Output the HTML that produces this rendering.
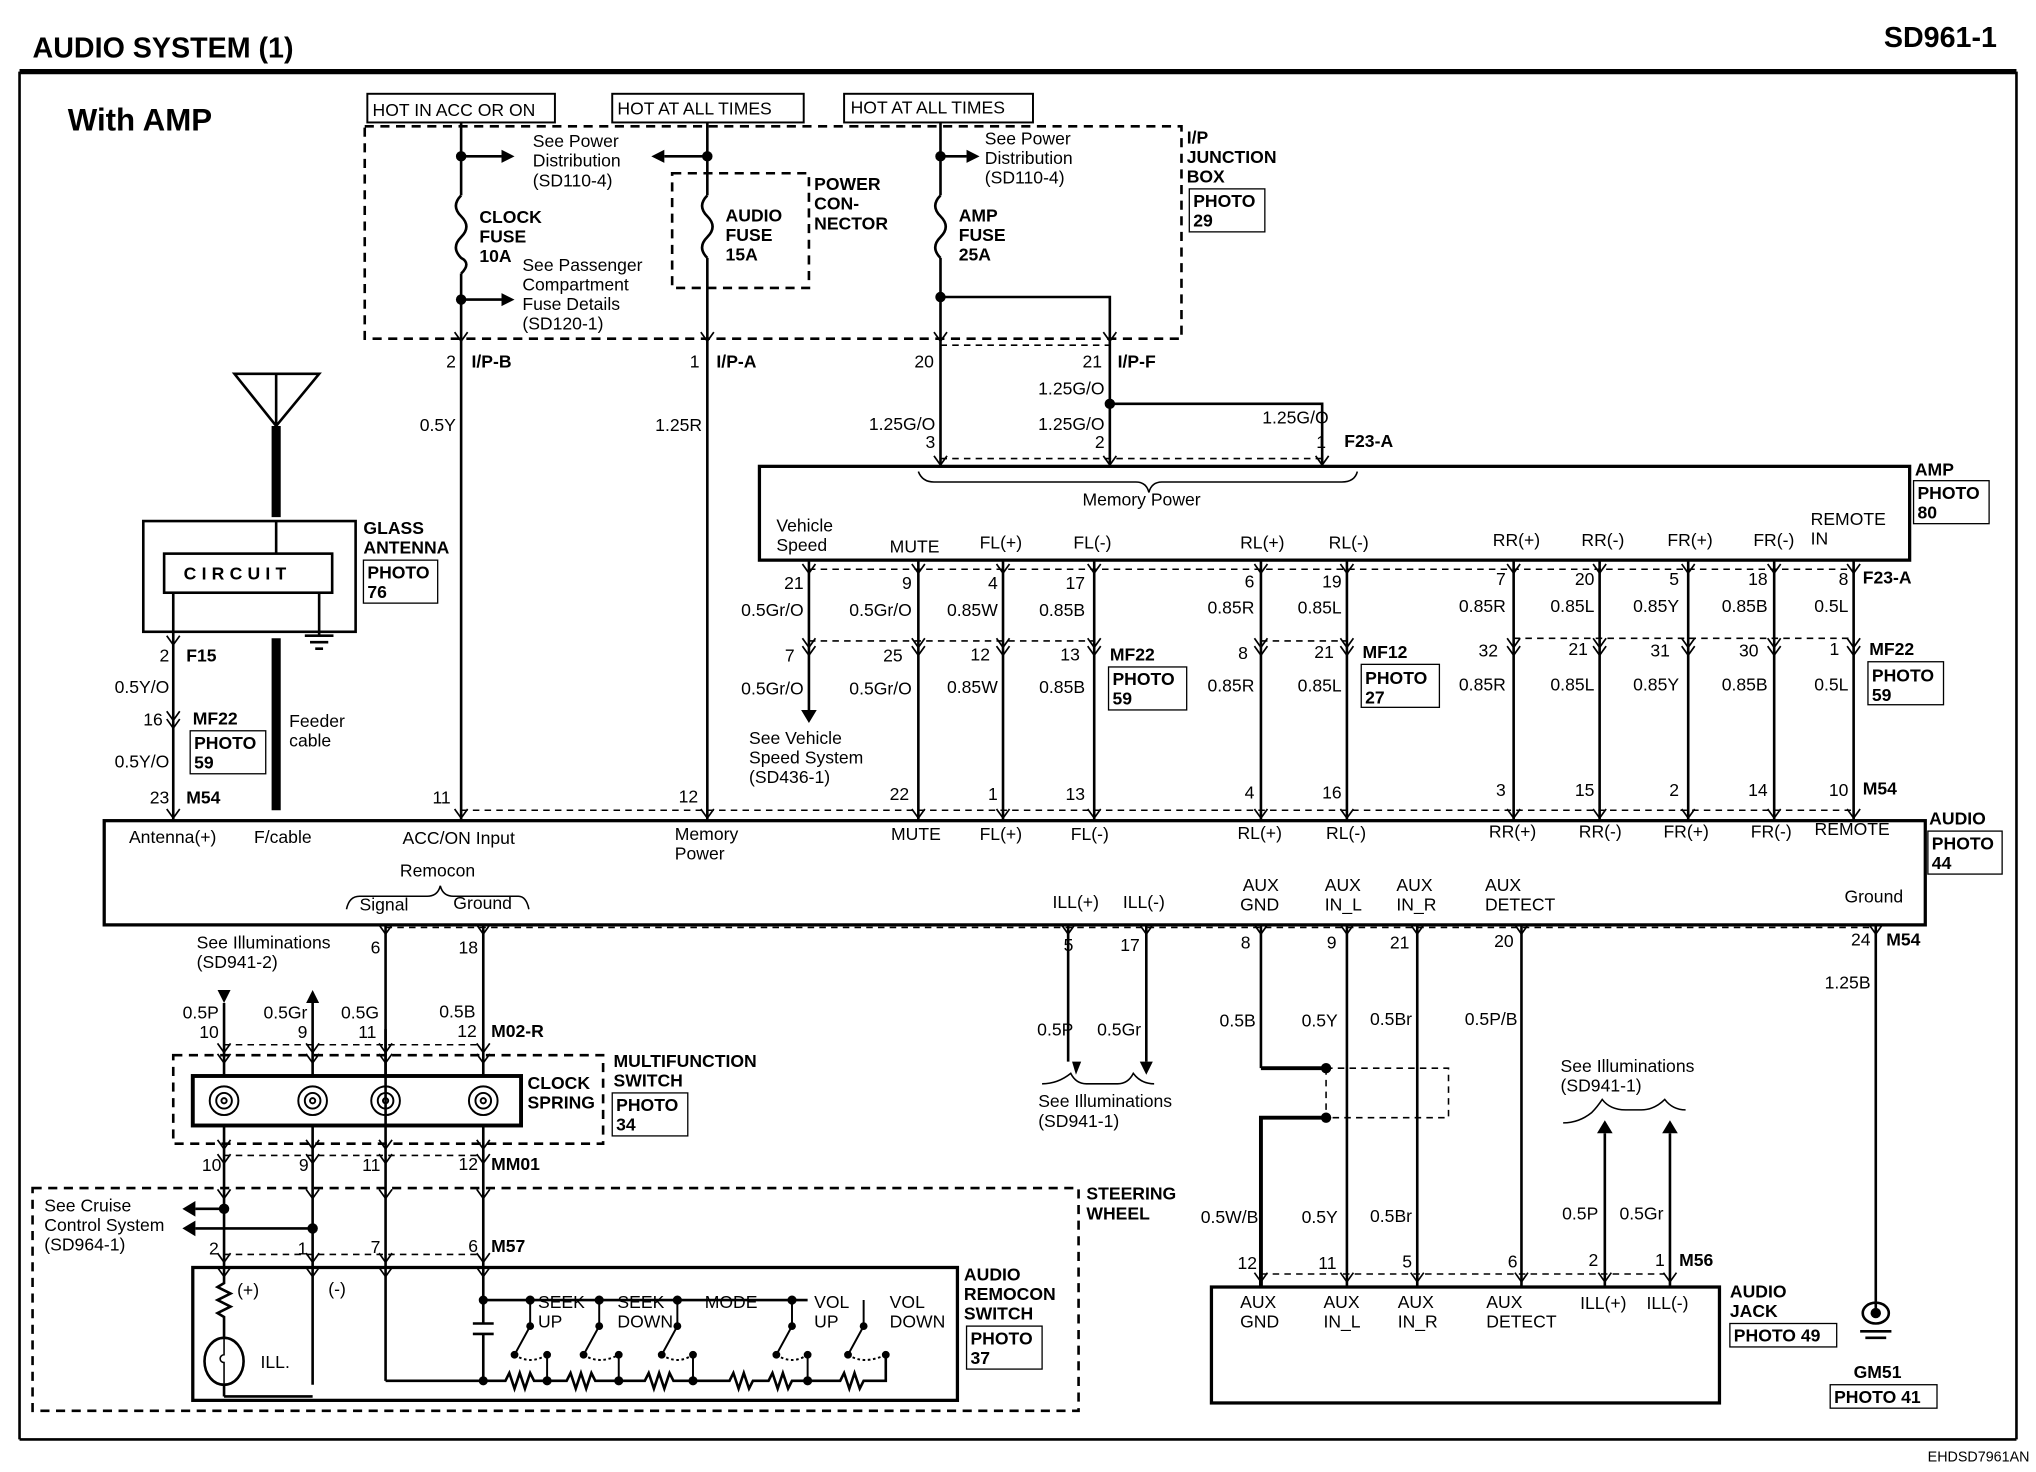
<!DOCTYPE html>
<html><head><meta charset="utf-8"><style>
html,body{margin:0;padding:0;background:#fff}
svg{display:block}
text{font-family:"Liberation Sans",sans-serif;font-size:13.5px;fill:#000}
.b{font-weight:bold}
</style></head><body>
<svg width="2036" height="1472" viewBox="0 0 1563 1130" preserveAspectRatio="none" xmlns="http://www.w3.org/2000/svg">
<rect width="1563" height="1130" fill="#fff"/>
<defs><path id="cv" d="M-5 -7 L0 0 L5 -7" fill="none" stroke="#000" stroke-width="1.3"/></defs>
<g stroke="#000" fill="none" stroke-width="2">
<line x1="15" y1="55" x2="1548" y2="55" stroke-width="4"/>
<line x1="15" y1="55" x2="15" y2="1105"/>
<line x1="1548" y1="55" x2="1548" y2="1105"/>
<line x1="15" y1="1105" x2="1548" y2="1105"/>
<rect x="282" y="72" width="144" height="22" stroke-width="1.5"/>
<rect x="470" y="72" width="147" height="22" stroke-width="1.5"/>
<rect x="648" y="72" width="145" height="22" stroke-width="1.5"/>
<rect x="280" y="97" width="627" height="163" stroke-dasharray="7,5"/>
<rect x="516" y="133" width="105" height="88" stroke-dasharray="7,5"/>
<line x1="354" y1="94" x2="354" y2="150"/>
<path d="M354 150 q-8 8 0 16 q8 8 0 16 q-8 8 0 16 q8 4 0 12"/>
<line x1="354" y1="210" x2="354" y2="630"/>
<line x1="543" y1="94" x2="543" y2="150"/>
<path d="M543 150 q-8 8 0 16 q8 8 0 16 q-8 8 0 16"/>
<line x1="543" y1="198" x2="543" y2="630"/>
<line x1="722" y1="94" x2="722" y2="150"/>
<path d="M722 150 q-8 8 0 16 q8 8 0 16 q-8 8 0 16"/>
<line x1="722" y1="198" x2="722" y2="358"/>
<path d="M722 228 H852 V358"/>
<path d="M852 310 H1015 V358"/>
<line x1="354" y1="120" x2="385" y2="120"/><line x1="543" y1="120" x2="510" y2="120"/>
<line x1="722" y1="120" x2="742" y2="120"/><line x1="354" y1="230" x2="385" y2="230"/>
<rect x="583" y="358" width="883" height="72" stroke-width="2.5"/>
<path d="M705 362 q3 8 12 8 H872 q8 0 10 8 q2 -8 10 -8 H1030 q10 0 12 -8" stroke-width="1.2"/>
<line x1="621" y1="430" x2="621" y2="545"/>
<line x1="705" y1="430" x2="705" y2="630"/>
<line x1="770" y1="430" x2="770" y2="630"/>
<line x1="840" y1="430" x2="840" y2="630"/>
<line x1="968" y1="430" x2="968" y2="630"/>
<line x1="1034" y1="430" x2="1034" y2="630"/>
<line x1="1162" y1="430" x2="1162" y2="630"/>
<line x1="1228" y1="430" x2="1228" y2="630"/>
<line x1="1296" y1="430" x2="1296" y2="630"/>
<line x1="1362" y1="430" x2="1362" y2="630"/>
<line x1="1423" y1="430" x2="1423" y2="630"/>
<g stroke-dasharray="5,4" stroke-width="1.2">
<line x1="722" y1="265" x2="852" y2="265"/><line x1="722" y1="352" x2="1015" y2="352"/>
<line x1="621" y1="437" x2="1423" y2="437"/>
<line x1="621" y1="492" x2="840" y2="492"/><line x1="968" y1="492" x2="1034" y2="492"/><line x1="1162" y1="490" x2="1423" y2="490"/>
<line x1="354" y1="622" x2="1423" y2="622"/>
<line x1="296" y1="712" x2="1440" y2="712"/>
<line x1="172" y1="802" x2="371" y2="802"/><line x1="172" y1="887" x2="371" y2="887"/>
<line x1="172" y1="963" x2="371" y2="963"/>
<line x1="968" y1="978" x2="1278" y2="978"/>
<path d="M1018 820 H1112 V858 H1018"/>
<line x1="1018" y1="820" x2="1018" y2="858"/>
</g>
<rect x="80" y="630" width="1398" height="80" stroke-width="2.5"/>
<path d="M266 698 q2 -10 10 -10 H328 q8 0 10 -8 q2 8 10 8 H398 q6 0 8 10" stroke-width="1.2"/>
<path d="M180 287 H245 L212 327 Z M212 287 V327"/>
<line x1="212" y1="327" x2="212" y2="397" stroke-width="7"/>
<rect x="110" y="400" width="163" height="85"/>
<rect x="126" y="425" width="129" height="30"/>
<line x1="212" y1="400" x2="212" y2="425"/>
<path d="M133 455 V630"/>
<line x1="212" y1="490" x2="212" y2="622" stroke-width="7"/>
<path d="M245 455 V488 M234 488 H256 M238 493 H252 M242 498 H248"/>
<line x1="296" y1="710" x2="296" y2="1060"/>
<line x1="371" y1="710" x2="371" y2="825"/><line x1="371" y1="865" x2="371" y2="998"/>
<line x1="820" y1="710" x2="820" y2="815"/><line x1="880" y1="710" x2="880" y2="815"/>
<path d="M800 832 q12 0 22 -8 q4 8 12 8 H858 q8 0 12 -8 q6 8 16 8" stroke-width="1.2"/>
<line x1="968" y1="710" x2="968" y2="820"/><path d="M968 820 H1018" stroke-width="3"/>
<path d="M1018 858 H968 V988" stroke-width="3"/>
<line x1="1034" y1="710" x2="1034" y2="988"/>
<line x1="1088" y1="710" x2="1088" y2="988"/>
<line x1="1168" y1="710" x2="1168" y2="988"/>
<line x1="1440" y1="710" x2="1440" y2="1008"/>
<path d="M1430 1008 a10 8 0 1 0 20 0 a10 8 0 1 0 -20 0 M1428 1022 H1452 M1432 1027 H1448"/>
<line x1="1232" y1="870" x2="1232" y2="988"/><line x1="1282" y1="870" x2="1282" y2="988"/>
<path d="M1200 862 q12 0 22 -8 q4 -4 8 -10 q6 8 18 8 H1260 q10 0 18 -8 q6 8 16 8" stroke-width="1.2"/>
<rect x="930" y="988" width="390" height="89" stroke-width="2.5"/>
<line x1="172" y1="770" x2="172" y2="825"/><line x1="240" y1="770" x2="240" y2="825"/>
<line x1="296" y1="790" x2="296" y2="825"/>
<line x1="172" y1="865" x2="172" y2="973"/><line x1="240" y1="865" x2="240" y2="1063"/>
<path d="M172 973 V985 l-5 3 l10 5 l-10 5 l10 5 l-10 5 l5 3 V1028 M172 1062 V1072 M172 1072 H240"/>
<ellipse cx="172" cy="1045" rx="15" ry="18"/>
<path d="M172 1027 V1040 a3 3 0 0 0 0 6 V1062" stroke-width="1.2"/>
<line x1="150" y1="928" x2="172" y2="928"/><line x1="150" y1="943" x2="240" y2="943"/>
<rect x="133" y="810" width="330" height="68" stroke-dasharray="7,5"/>
<rect x="148" y="826" width="252" height="38" stroke-width="3"/>
<rect x="25" y="912" width="803" height="171" stroke-dasharray="7,5"/>
<rect x="148" y="973" width="587" height="102" stroke-width="2.5"/>
<path d="M296 1060 H371 M371 998 H620"/>
<path d="M371 998 V1016 M363 1016 H379 M363 1024 H379 M371 1024 V1060"/>
<path d="M371 1060 H388 l3 -6 l4 12 l4 -12 l4 12 l4 -12 l3 6 H435 l3 -6 l4 12 l4 -12 l4 12 l4 -12 l3 6 H495 l3 -6 l4 12 l4 -12 l4 12 l4 -12 l3 6 H560 l3 -6 l4 12 l4 -12 l4 12 l3 -6 H590 l3 -6 l4 12 l4 -12 l4 12 l3 -6 H645 l3 -6 l4 12 l4 -12 l4 12 l3 -6 H680 V1040"/>
<g stroke-width="1.5">
<path d="M407 998 V1018 L395 1040 M420 1040 V1060"/>
<path d="M460 998 V1018 L448 1040 M475 1040 V1060"/>
<path d="M520 998 V1018 L508 1040 M532 1040 V1060"/>
<path d="M608 998 V1018 L596 1040 M620 1040 V1060"/>
<path d="M663 998 V1018 L651 1040"/>
<path d="M395 1040 q12 8 25 0 M448 1040 q12 8 27 0 M508 1040 q12 8 24 0 M596 1040 q12 8 24 0 M651 1040 q12 8 29 0" stroke-dasharray="2,2"/>
</g>
</g>
<!-- chevrons -->
<g>
<use href="#cv" x="354" y="262"/><use href="#cv" x="543" y="262"/><use href="#cv" x="722" y="262"/><use href="#cv" x="852" y="262"/>
<use href="#cv" x="722" y="357"/><use href="#cv" x="852" y="357"/><use href="#cv" x="1015" y="357"/>
<use href="#cv" x="621" y="440"/><use href="#cv" x="705" y="440"/><use href="#cv" x="770" y="440"/><use href="#cv" x="840" y="440"/><use href="#cv" x="968" y="440"/><use href="#cv" x="1034" y="440"/><use href="#cv" x="1162" y="440"/><use href="#cv" x="1228" y="440"/><use href="#cv" x="1296" y="440"/><use href="#cv" x="1362" y="440"/><use href="#cv" x="1423" y="440"/>
<use href="#cv" x="621" y="497"/><use href="#cv" x="705" y="497"/><use href="#cv" x="770" y="497"/><use href="#cv" x="840" y="497"/><use href="#cv" x="968" y="497"/><use href="#cv" x="1034" y="497"/><use href="#cv" x="1162" y="497"/><use href="#cv" x="1228" y="497"/><use href="#cv" x="1296" y="497"/><use href="#cv" x="1362" y="497"/><use href="#cv" x="1423" y="497"/>
<use href="#cv" x="621" y="503"/><use href="#cv" x="705" y="503"/><use href="#cv" x="770" y="503"/><use href="#cv" x="840" y="503"/><use href="#cv" x="968" y="503"/><use href="#cv" x="1034" y="503"/><use href="#cv" x="1162" y="503"/><use href="#cv" x="1228" y="503"/><use href="#cv" x="1296" y="503"/><use href="#cv" x="1362" y="503"/><use href="#cv" x="1423" y="503"/>
<use href="#cv" x="133" y="495"/><use href="#cv" x="133" y="553"/><use href="#cv" x="133" y="559"/>
<use href="#cv" x="354" y="628"/><use href="#cv" x="543" y="628"/><use href="#cv" x="705" y="628"/><use href="#cv" x="770" y="628"/><use href="#cv" x="840" y="628"/><use href="#cv" x="968" y="628"/><use href="#cv" x="1034" y="628"/><use href="#cv" x="1162" y="628"/><use href="#cv" x="1228" y="628"/><use href="#cv" x="1296" y="628"/><use href="#cv" x="1362" y="628"/><use href="#cv" x="1423" y="628"/><use href="#cv" x="133" y="628"/>
<use href="#cv" x="296" y="717"/><use href="#cv" x="371" y="717"/><use href="#cv" x="820" y="717"/><use href="#cv" x="880" y="717"/><use href="#cv" x="968" y="717"/><use href="#cv" x="1034" y="717"/><use href="#cv" x="1088" y="717"/><use href="#cv" x="1168" y="717"/><use href="#cv" x="1440" y="717"/>
<use href="#cv" x="172" y="808"/><use href="#cv" x="240" y="808"/><use href="#cv" x="296" y="808"/><use href="#cv" x="371" y="808"/>
<use href="#cv" x="172" y="816"/><use href="#cv" x="240" y="816"/><use href="#cv" x="296" y="816"/><use href="#cv" x="371" y="816"/>
<use href="#cv" x="172" y="882"/><use href="#cv" x="240" y="882"/><use href="#cv" x="296" y="882"/><use href="#cv" x="371" y="882"/>
<use href="#cv" x="172" y="893"/><use href="#cv" x="240" y="893"/><use href="#cv" x="296" y="893"/><use href="#cv" x="371" y="893"/>
<use href="#cv" x="172" y="920"/><use href="#cv" x="240" y="920"/><use href="#cv" x="296" y="920"/><use href="#cv" x="371" y="920"/>
<use href="#cv" x="172" y="969"/><use href="#cv" x="240" y="969"/><use href="#cv" x="296" y="969"/><use href="#cv" x="371" y="969"/>
<use href="#cv" x="172" y="980"/><use href="#cv" x="240" y="980"/><use href="#cv" x="296" y="980"/><use href="#cv" x="371" y="980"/>
<use href="#cv" x="968" y="984"/><use href="#cv" x="1034" y="984"/><use href="#cv" x="1088" y="984"/><use href="#cv" x="1168" y="984"/><use href="#cv" x="1232" y="984"/><use href="#cv" x="1282" y="984"/>
</g>
<g stroke="#000" fill="none" stroke-width="1.5">
<circle cx="172" cy="845" r="11"/><circle cx="172" cy="845" r="6"/><circle cx="172" cy="845" r="2"/>
<circle cx="240" cy="845" r="11"/><circle cx="240" cy="845" r="6"/><circle cx="240" cy="845" r="2"/>
<circle cx="296" cy="845" r="11"/><circle cx="296" cy="845" r="6"/><circle cx="296" cy="845" r="2"/>
<circle cx="371" cy="845" r="11"/><circle cx="371" cy="845" r="6"/><circle cx="371" cy="845" r="2"/>
</g>
<g fill="#000">
<circle cx="354" cy="120" r="4"/><circle cx="543" cy="120" r="4"/><circle cx="722" cy="120" r="4"/>
<circle cx="354" cy="230" r="4"/><circle cx="722" cy="228" r="4"/><circle cx="852" cy="310" r="4"/>
<circle cx="1018" cy="820" r="4"/><circle cx="1018" cy="858" r="4"/>
<circle cx="172" cy="928" r="4"/><circle cx="240" cy="943" r="4"/>
<circle cx="371" cy="998" r="3.5"/><circle cx="407" cy="998" r="3.5"/><circle cx="460" cy="998" r="3.5"/><circle cx="520" cy="998" r="3.5"/><circle cx="608" cy="998" r="3.5"/>
<circle cx="371" cy="1060" r="3.5"/><circle cx="420" cy="1060" r="3.5"/><circle cx="475" cy="1060" r="3.5"/><circle cx="532" cy="1060" r="3.5"/><circle cx="620" cy="1060" r="3.5"/>
<circle cx="407" cy="1018" r="3"/><circle cx="460" cy="1018" r="3"/><circle cx="520" cy="1018" r="3"/><circle cx="608" cy="1018" r="3"/><circle cx="663" cy="1018" r="3"/>
<circle cx="395" cy="1040" r="3"/><circle cx="420" cy="1040" r="3"/><circle cx="448" cy="1040" r="3"/><circle cx="475" cy="1040" r="3"/><circle cx="508" cy="1040" r="3"/><circle cx="532" cy="1040" r="3"/><circle cx="596" cy="1040" r="3"/><circle cx="620" cy="1040" r="3"/><circle cx="651" cy="1040" r="3"/><circle cx="680" cy="1040" r="3"/>
<path d="M385 115 L395 120 L385 125Z M510 115 L500 120 L510 125Z M742 115 L752 120 L742 125Z M385 225 L395 230 L385 235Z"/>
<path d="M615 545 H627 L621 555Z M167 760 H177 L172 770Z M235 770 H245 L240 760Z M823 815 L830 815 L826 825Z M875 815 H885 L880 825Z M1226 870 H1238 L1232 860Z M1276 870 H1288 L1282 860Z"/>
<path d="M150 922 L140 928 L150 934Z M150 937 L140 943 L150 949Z"/>
<circle cx="1440" cy="1008" r="4"/>
</g>
<text x="25" y="44" class="b" style="font-size:22px">AUDIO SYSTEM (1)</text>
<text x="1533" y="36" class="b" text-anchor="end" style="font-size:22px">SD961-1</text>
<text x="52" y="100" class="b" style="font-size:24px">With AMP</text>
<text x="1558" y="1122" text-anchor="end" style="font-size:11px">EHDSD7961AN</text>
<text x="286" y="89">HOT IN ACC OR ON</text>
<text x="474" y="88">HOT AT ALL TIMES</text>
<text x="653" y="87">HOT AT ALL TIMES</text>
<text x="409" y="113">See Power</text><text x="409" y="128">Distribution</text><text x="409" y="143">(SD110-4)</text>
<text x="756" y="111">See Power</text><text x="756" y="126">Distribution</text><text x="756" y="141">(SD110-4)</text>
<text x="368" y="171" class="b">CLOCK</text><text x="368" y="186" class="b">FUSE</text><text x="368" y="201" class="b">10A</text>
<text x="401" y="208">See Passenger</text><text x="401" y="223">Compartment</text><text x="401" y="238">Fuse Details</text><text x="401" y="253">(SD120-1)</text>
<text x="557" y="170" class="b">AUDIO</text><text x="557" y="185" class="b">FUSE</text><text x="557" y="200" class="b">15A</text>
<text x="625" y="146" class="b">POWER</text><text x="625" y="161" class="b">CON-</text><text x="625" y="176" class="b">NECTOR</text>
<text x="736" y="170" class="b">AMP</text><text x="736" y="185" class="b">FUSE</text><text x="736" y="200" class="b">25A</text>
<text x="911" y="110" class="b">I/P</text><text x="911" y="125" class="b">JUNCTION</text><text x="911" y="140" class="b">BOX</text>
<rect x="913" y="145" width="58" height="33" fill="none" stroke="#000"/><text x="916" y="159" class="b">PHOTO</text><text x="916" y="174" class="b">29</text>
<text x="350" y="282" text-anchor="end">2</text><text x="362" y="282" class="b">I/P-B</text>
<text x="537" y="282" text-anchor="end">1</text><text x="550" y="282" class="b">I/P-A</text>
<text x="717" y="282" text-anchor="end">20</text><text x="846" y="282" text-anchor="end">21</text><text x="858" y="282" class="b">I/P-F</text>
<text x="350" y="331" text-anchor="end">0.5Y</text><text x="539" y="331" text-anchor="end">1.25R</text>
<text x="718" y="330" text-anchor="end">1.25G/O</text><text x="848" y="303" text-anchor="end">1.25G/O</text><text x="848" y="330" text-anchor="end">1.25G/O</text><text x="1020" y="325" text-anchor="end">1.25G/O</text>
<text x="718" y="344" text-anchor="end">3</text><text x="848" y="344" text-anchor="end">2</text><text x="1018" y="344" text-anchor="end">1</text><text x="1032" y="343" class="b">F23-A</text>
<text x="831" y="388">Memory Power</text>
<text x="1470" y="365" class="b">AMP</text>
<rect x="1469" y="369" width="58" height="33" fill="none" stroke="#000"/><text x="1472" y="383" class="b">PHOTO</text><text x="1472" y="398" class="b">80</text>
<text x="596" y="408">Vehicle</text><text x="596" y="423">Speed</text>
<text x="683" y="424">MUTE</text><text x="752" y="421">FL(+)</text><text x="824" y="421">FL(-)</text>
<text x="952" y="421">RL(+)</text><text x="1020" y="421">RL(-)</text><text x="1146" y="419">RR(+)</text><text x="1214" y="419">RR(-)</text>
<text x="1280" y="419">FR(+)</text><text x="1346" y="419">FR(-)</text><text x="1390" y="403">REMOTE</text><text x="1390" y="418">IN</text>
<g text-anchor="end">
<text x="617" y="452">21</text><text x="700" y="452">9</text><text x="766" y="452">4</text><text x="833" y="452">17</text><text x="963" y="451">6</text><text x="1030" y="451">19</text><text x="1156" y="449">7</text><text x="1224" y="449">20</text><text x="1289" y="449">5</text><text x="1357" y="449">18</text><text x="1419" y="449">8</text>
<text x="617" y="473">0.5Gr/O</text><text x="700" y="473">0.5Gr/O</text><text x="766" y="473">0.85W</text><text x="833" y="473">0.85B</text><text x="963" y="471">0.85R</text><text x="1030" y="471">0.85L</text><text x="1156" y="470">0.85R</text><text x="1224" y="470">0.85L</text><text x="1289" y="470">0.85Y</text><text x="1357" y="470">0.85B</text><text x="1419" y="470">0.5L</text>
<text x="610" y="508">7</text><text x="693" y="508">25</text><text x="760" y="507">12</text><text x="829" y="507">13</text><text x="958" y="506">8</text><text x="1024" y="505">21</text><text x="1150" y="504">32</text><text x="1219" y="503">21</text><text x="1282" y="504">31</text><text x="1350" y="504">30</text><text x="1412" y="503">1</text>
<text x="617" y="533">0.5Gr/O</text><text x="700" y="533">0.5Gr/O</text><text x="766" y="532">0.85W</text><text x="833" y="532">0.85B</text><text x="963" y="531">0.85R</text><text x="1030" y="531">0.85L</text><text x="1156" y="530">0.85R</text><text x="1224" y="530">0.85L</text><text x="1289" y="530">0.85Y</text><text x="1357" y="530">0.85B</text><text x="1419" y="530">0.5L</text>
<text x="346" y="617">11</text><text x="536" y="616">12</text><text x="698" y="614">22</text><text x="766" y="614">1</text><text x="833" y="614">13</text><text x="963" y="613">4</text><text x="1030" y="613">16</text><text x="1156" y="611">3</text><text x="1224" y="611">15</text><text x="1289" y="611">2</text><text x="1357" y="611">14</text><text x="1419" y="611">10</text>
</g>
<text x="1430" y="448" class="b">F23-A</text>
<text x="852" y="507" class="b">MF22</text><rect x="851" y="512" width="60" height="33" fill="none" stroke="#000"/><text x="854" y="526" class="b">PHOTO</text><text x="854" y="541" class="b">59</text>
<text x="1046" y="505" class="b">MF12</text><rect x="1045" y="510" width="60" height="33" fill="none" stroke="#000"/><text x="1048" y="525" class="b">PHOTO</text><text x="1048" y="540" class="b">27</text>
<text x="1435" y="503" class="b">MF22</text><rect x="1434" y="508" width="58" height="33" fill="none" stroke="#000"/><text x="1437" y="523" class="b">PHOTO</text><text x="1437" y="538" class="b">59</text>
<text x="575" y="571">See Vehicle</text><text x="575" y="586">Speed System</text><text x="575" y="601">(SD436-1)</text>
<text x="1430" y="610" class="b">M54</text>
<text x="279" y="410" class="b">GLASS</text><text x="279" y="425" class="b">ANTENNA</text>
<rect x="279" y="430" width="57" height="33" fill="none" stroke="#000"/><text x="282" y="444" class="b">PHOTO</text><text x="282" y="459" class="b">76</text>
<text x="141" y="445" class="b" style="letter-spacing:4px">CIRCUIT</text>
<text x="130" y="508" text-anchor="end">2</text><text x="143" y="508" class="b">F15</text>
<text x="130" y="532" text-anchor="end">0.5Y/O</text>
<text x="125" y="557" text-anchor="end">16</text><text x="148" y="556" class="b">MF22</text>
<rect x="146" y="561" width="58" height="33" fill="none" stroke="#000"/><text x="149" y="575" class="b">PHOTO</text><text x="149" y="590" class="b">59</text>
<text x="130" y="589" text-anchor="end">0.5Y/O</text>
<text x="130" y="617" text-anchor="end">23</text><text x="143" y="617" class="b">M54</text>
<text x="222" y="558">Feeder</text><text x="222" y="573">cable</text>
<text x="99" y="647">Antenna(+)</text><text x="195" y="647">F/cable</text><text x="309" y="648">ACC/ON Input</text>
<text x="518" y="645">Memory</text><text x="518" y="660">Power</text>
<text x="684" y="645">MUTE</text><text x="752" y="645">FL(+)</text><text x="822" y="645">FL(-)</text><text x="950" y="644">RL(+)</text><text x="1018" y="644">RL(-)</text>
<text x="1143" y="643">RR(+)</text><text x="1212" y="643">RR(-)</text><text x="1277" y="643">FR(+)</text><text x="1344" y="643">FR(-)</text><text x="1393" y="641">REMOTE</text>
<text x="1481" y="633" class="b">AUDIO</text><rect x="1480" y="638" width="57" height="33" fill="none" stroke="#000"/><text x="1483" y="652" class="b">PHOTO</text><text x="1483" y="667" class="b">44</text>
<text x="307" y="673">Remocon</text><text x="276" y="699">Signal</text><text x="348" y="698">Ground</text>
<text x="808" y="697">ILL(+)</text><text x="862" y="697">ILL(-)</text>
<text x="954" y="684">AUX</text><text x="952" y="699">GND</text><text x="1017" y="684">AUX</text><text x="1017" y="699">IN_L</text><text x="1072" y="684">AUX</text><text x="1072" y="699">IN_R</text>
<text x="1140" y="684">AUX</text><text x="1140" y="699">DETECT</text><text x="1416" y="693">Ground</text>
<text x="151" y="728">See Illuminations</text><text x="151" y="743">(SD941-2)</text>
<g text-anchor="end">
<text x="292" y="732">6</text><text x="367" y="732">18</text><text x="824" y="730">5</text><text x="875" y="730">17</text><text x="960" y="728">8</text><text x="1026" y="728">9</text><text x="1082" y="728">21</text><text x="1162" y="727">20</text><text x="1436" y="726">24</text>
<text x="168" y="782">0.5P</text><text x="236" y="782">0.5Gr</text><text x="291" y="782">0.5G</text><text x="365" y="781">0.5B</text>
<text x="168" y="797">10</text><text x="236" y="797">9</text><text x="289" y="797">11</text><text x="366" y="796">12</text>
<text x="824" y="795">0.5P</text><text x="876" y="795">0.5Gr</text><text x="964" y="788">0.5B</text><text x="1027" y="788">0.5Y</text><text x="1084" y="787">0.5Br</text><text x="1165" y="787">0.5P/B</text><text x="1436" y="759">1.25B</text>
<text x="170" y="899">10</text><text x="237" y="899">9</text><text x="292" y="899">11</text><text x="367" y="898">12</text>
<text x="168" y="963">2</text><text x="236" y="963">1</text><text x="292" y="962">7</text><text x="367" y="961">6</text>
<text x="966" y="939">0.5W/B</text><text x="1027" y="939">0.5Y</text><text x="1084" y="938">0.5Br</text><text x="1227" y="936">0.5P</text><text x="1277" y="936">0.5Gr</text>
<text x="965" y="974">12</text><text x="1026" y="974">11</text><text x="1084" y="973">5</text><text x="1165" y="973">6</text><text x="1227" y="972">2</text><text x="1278" y="972">1</text>
</g>
<text x="1448" y="726" class="b">M54</text>
<text x="377" y="796" class="b">M02-R</text>
<text x="471" y="819" class="b">MULTIFUNCTION</text><text x="471" y="834" class="b">SWITCH</text>
<text x="405" y="836" class="b">CLOCK</text><text x="405" y="851" class="b">SPRING</text>
<rect x="470" y="839" width="58" height="33" fill="none" stroke="#000"/><text x="473" y="853" class="b">PHOTO</text><text x="473" y="868" class="b">34</text>
<text x="797" y="850">See Illuminations</text><text x="797" y="865">(SD941-1)</text>
<text x="1198" y="823">See Illuminations</text><text x="1198" y="838">(SD941-1)</text>
<text x="377" y="898" class="b">MM01</text>
<text x="834" y="921" class="b">STEERING</text><text x="834" y="936" class="b">WHEEL</text>
<text x="34" y="930">See Cruise</text><text x="34" y="945">Control System</text><text x="34" y="960">(SD964-1)</text>
<text x="377" y="961" class="b">M57</text><text x="1289" y="972" class="b">M56</text>
<text x="182" y="995">(+)</text><text x="252" y="994">(-)</text><text x="200" y="1050">ILL.</text>
<text x="413" y="1004">SEEK</text><text x="413" y="1019">UP</text><text x="474" y="1004">SEEK</text><text x="474" y="1019">DOWN</text><text x="541" y="1004">MODE</text>
<text x="625" y="1004">VOL</text><text x="625" y="1019">UP</text><text x="683" y="1004">VOL</text><text x="683" y="1019">DOWN</text>
<text x="740" y="983" class="b">AUDIO</text><text x="740" y="998" class="b">REMOCON</text><text x="740" y="1013" class="b">SWITCH</text>
<rect x="742" y="1018" width="58" height="33" fill="none" stroke="#000"/><text x="745" y="1032" class="b">PHOTO</text><text x="745" y="1047" class="b">37</text>
<text x="952" y="1004">AUX</text><text x="952" y="1019">GND</text><text x="1016" y="1004">AUX</text><text x="1016" y="1019">IN_L</text><text x="1073" y="1004">AUX</text><text x="1073" y="1019">IN_R</text>
<text x="1141" y="1004">AUX</text><text x="1141" y="1019">DETECT</text><text x="1213" y="1005">ILL(+)</text><text x="1264" y="1005">ILL(-)</text>
<text x="1328" y="996" class="b">AUDIO</text><text x="1328" y="1011" class="b">JACK</text>
<rect x="1328" y="1016" width="82" height="18" fill="none" stroke="#000"/><text x="1331" y="1030" class="b">PHOTO 49</text>
<text x="1423" y="1058" class="b">GM51</text>
<rect x="1405" y="1063" width="82" height="18" fill="none" stroke="#000"/><text x="1408" y="1077" class="b">PHOTO 41</text>
</svg>
</body></html>
